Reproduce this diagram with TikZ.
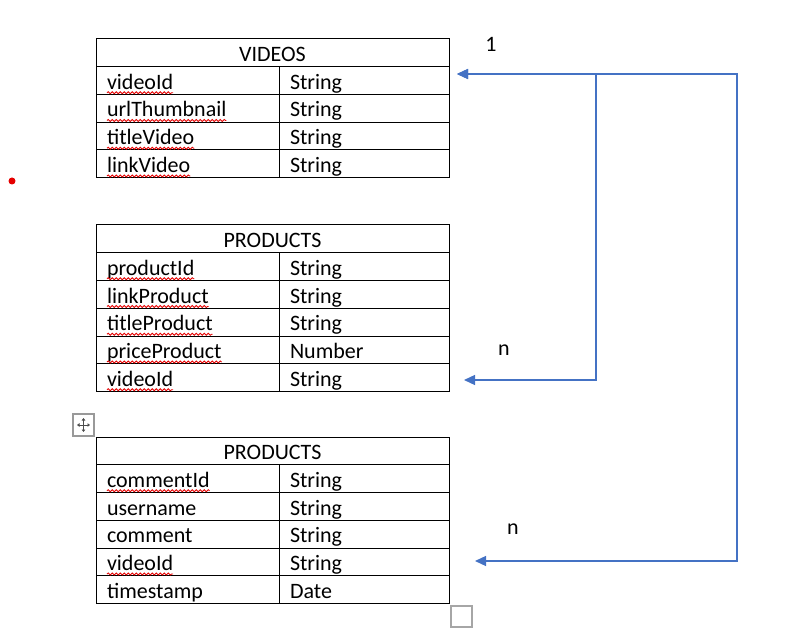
\documentclass[tikz,border=0pt]{standalone}
\usepackage{fontspec}
\setmainfont{Carlito}
\usepackage{tikz}
\usetikzlibrary{arrows.meta,decorations.pathmorphing}
\definecolor{linkblue}{RGB}{68,114,196}
\newcommand\tabfont{\fontsize{22}{26}\selectfont}
\newcommand\spellmark[2]{\node[spellword] (#1w) at([xshift=11]#1.base west){\phantom{#2}};
	\draw[spell] ([yshift=-3.5]#1w.base west) -- ([yshift=-3.5]#1w.base east);}

\begin{document}
\begin{tikzpicture}[x=1pt, y=-1pt,
		cell/.style={draw=black, line width=1, anchor=north west, outer sep=0,
			inner xsep=11, inner ysep=0, text height=22.5, text depth=5.25,
			align=left, font=\tabfont},
		keycell/.style={cell, text width=161},
		typecell/.style={cell, text width=148},
		headcell/.style={cell, text width=331, align=center},
		card/.style={font=\tabfont},
		spellword/.style={inner sep=0, outer sep=0, anchor=base west, font=\tabfont},
		spell/.style={draw=red!90!black, line width=0.8, decorate,
			decoration={snake, amplitude=1.1, segment length=4}},
		link/.style={draw=linkblue, line width=1.3,
			{Triangle[length=11,width=10]}-{Triangle[length=11,width=10]}}]
				\useasboundingbox (0,0) rectangle (809,639);
				\node[headcell] (vh) at(96,39){VIDEOS};
				\node[keycell] (v1k) at(96,66.75){videoId};
				\node[typecell] (v1t) at(279,66.75){String};
				\node[keycell] (v2k) at(96,94.5){urlThumbnail};
				\node[typecell] (v2t) at(279,94.5){String};
				\node[keycell] (v3k) at(96,122.25){titleVideo};
				\node[typecell] (v3t) at(279,122.25){String};
				\node[keycell] (v4k) at(96,150){linkVideo};
				\node[typecell] (v4t) at(279,150){String};
				\node[headcell] (ph) at(96,225){PRODUCTS};
				\node[keycell] (p1k) at(96,252.75){productId};
				\node[typecell] (p1t) at(279,252.75){String};
				\node[keycell] (p2k) at(96,280.5){linkProduct};
				\node[typecell] (p2t) at(279,280.5){String};
				\node[keycell] (p3k) at(96,308.25){titleProduct};
				\node[typecell] (p3t) at(279,308.25){String};
				\node[keycell] (p4k) at(96,336){priceProduct};
				\node[typecell] (p4t) at(279,336){Number};
				\node[keycell] (p5k) at(96,363.75){videoId};
				\node[typecell] (p5t) at(279,363.75){String};
				\node[headcell] (ch) at(96,437){PRODUCTS};
				\node[keycell] (c1k) at(96,464.75){commentId};
				\node[typecell] (c1t) at(279,464.75){String};
				\node[keycell] (c2k) at(96,492.5){username};
				\node[typecell] (c2t) at(279,492.5){String};
				\node[keycell] (c3k) at(96,520.25){comment};
				\node[typecell] (c3t) at(279,520.25){String};
				\node[keycell] (c4k) at(96,548){videoId};
				\node[typecell] (c4t) at(279,548){String};
				\node[keycell] (c5k) at(96,575.75){timestamp};
				\node[typecell] (c5t) at(279,575.75){Date};
				\spellmark{v1k}{videoId}
				\spellmark{v2k}{urlThumbnail}
				\spellmark{v3k}{titleVideo}
				\spellmark{v4k}{linkVideo}
				\spellmark{p1k}{productId}
				\spellmark{p2k}{linkProduct}
				\spellmark{p3k}{titleProduct}
				\spellmark{p4k}{priceProduct}
				\spellmark{p5k}{videoId}
				\spellmark{c1k}{commentId}
				\spellmark{c4k}{videoId}
				\node[card] (one) at(491,44){1};
				\node[card] (pn) at(504,350){n};
				\node[card] (cn) at(513,529){n};
				\coordinate (vEnd) at(457,74);
				\coordinate (pEnd) at(464,380);
				\coordinate (cEnd) at(475,561);
				\coordinate (pBend) at(596,74);
				\coordinate (cBend) at(737,74);
				\draw[link] (pEnd) -| (pBend) -- (vEnd);
				\draw[link] (cEnd) -| (cBend) -- (vEnd);
				\fill[red!90!black] (12,181) circle (3.5);
				\draw[gray!80, line width=1.2] (73,414) rectangle (94,436);
				\draw[gray!60!black, line width=0.9,
					{Triangle[length=2.5,width=3.5]}-{Triangle[length=2.5,width=3.5]}] (77,425) -- (90,425);
				\draw[gray!60!black, line width=0.9,
					{Triangle[length=2.5,width=3.5]}-{Triangle[length=2.5,width=3.5]}] (83.5,418) -- (83.5,432);
				\draw[gray!70, line width=1.3] (451,606) rectangle (472,627);
			\end{tikzpicture}
\end{document}
